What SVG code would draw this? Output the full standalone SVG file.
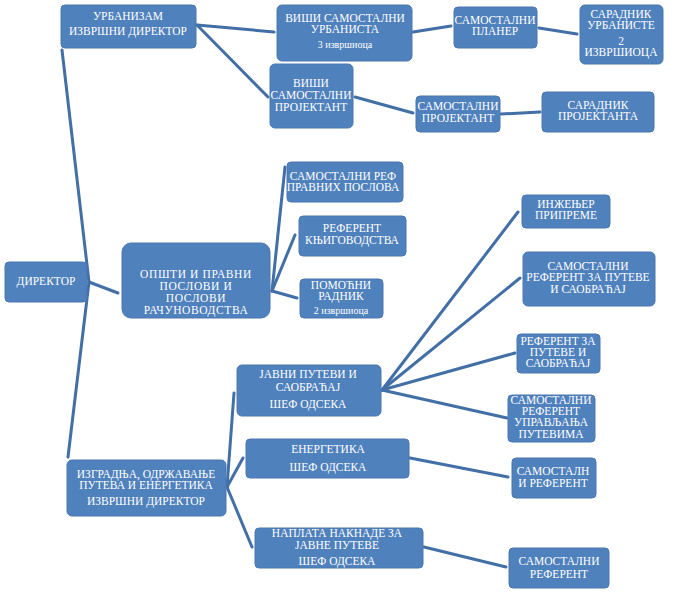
<svg xmlns="http://www.w3.org/2000/svg" width="686" height="609" viewBox="0 0 686 609">
<style>
.b{fill:#4f81bd;stroke:#4a77b0;stroke-width:1}
.t{font-family:"Liberation Serif","Times New Roman",serif;font-size:11.5px;fill:#ffffff;text-anchor:middle}
.s{font-size:10px}
.c{stroke:#426fa6;stroke-width:3;fill:none;stroke-linecap:round}
</style>
<rect width="686" height="609" fill="#ffffff"/>
<g id="connectors">
<line class="c" x1="89" y1="282" x2="62" y2="50"/>
<line class="c" x1="89" y1="282" x2="68" y2="457"/>
<line class="c" x1="89" y1="282" x2="118" y2="293"/>
<line class="c" x1="197" y1="25" x2="274" y2="32"/>
<line class="c" x1="197" y1="25" x2="268" y2="97"/>
<line class="c" x1="413" y1="32" x2="451" y2="26"/>
<line class="c" x1="539" y1="28" x2="577" y2="34"/>
<line class="c" x1="355" y1="97" x2="413" y2="113"/>
<line class="c" x1="501" y1="114" x2="540" y2="112"/>
<line class="c" x1="272" y1="291" x2="285" y2="167"/>
<line class="c" x1="272" y1="291" x2="295" y2="235"/>
<line class="c" x1="272" y1="291" x2="297" y2="298"/>
<line class="c" x1="382" y1="390" x2="518" y2="212"/>
<line class="c" x1="382" y1="390" x2="520" y2="278"/>
<line class="c" x1="382" y1="390" x2="515" y2="353"/>
<line class="c" x1="382" y1="390" x2="507" y2="418"/>
<line class="c" x1="227" y1="487" x2="234" y2="393"/>
<line class="c" x1="227" y1="487" x2="243" y2="458"/>
<line class="c" x1="227" y1="487" x2="252" y2="547"/>
<line class="c" x1="410" y1="458" x2="508" y2="477"/>
<line class="c" x1="424" y1="547" x2="506" y2="567"/>
</g>
<g id="urbanizam"><rect class="b" x="61" y="5" width="135" height="43" rx="4"/>
<text class="t" x="128" y="20">УРБАНИЗАМ</text><text class="t" x="128" y="35">ИЗВРШНИ ДИРЕКТОР</text></g>
<g id="visi-urbanista"><rect class="b" x="277" y="5" width="135" height="56" rx="5"/>
<text class="t" x="345" y="22">ВИШИ САМОСТАЛНИ</text><text class="t" x="345" y="33">УРБАНИСТА</text><text class="t s" x="345" y="48">3 извршиоца</text></g>
<g id="visi-projektant"><rect class="b" x="270" y="64" width="83" height="64" rx="5"/>
<text class="t" x="311" y="87">ВИШИ</text><text class="t" x="311" y="99">САМОСТАЛНИ</text><text class="t" x="311" y="111">ПРОЈЕКТАНТ</text></g>
<g id="planer"><rect class="b" x="454" y="7" width="83" height="41" rx="4"/>
<text class="t" x="495" y="24">САМОСТАЛНИ</text><text class="t" x="495" y="35">ПЛАНЕР</text></g>
<g id="saradnik-urbaniste"><rect class="b" x="580" y="5" width="83" height="59" rx="5"/>
<text class="t" x="621" y="18">САРАДНИК</text><text class="t" x="621" y="29">УРБАНИСТЕ</text><text class="t" x="621" y="45">2</text><text class="t" x="621" y="56">ИЗВРШИОЦА</text></g>
<g id="sam-projektant"><rect class="b" x="416" y="96" width="84" height="36" rx="4"/>
<text class="t" x="458" y="110">САМОСТАЛНИ</text><text class="t" x="458" y="122">ПРОЈЕКТАНТ</text></g>
<g id="saradnik-projektanta"><rect class="b" x="542" y="92" width="112" height="40" rx="4"/>
<text class="t" x="598" y="109">САРАДНИК</text><text class="t" x="598" y="120">ПРОЈЕКТАНТА</text></g>
<g id="direktor"><rect class="b" x="5" y="262" width="82" height="40" rx="4"/>
<text class="t" x="46" y="285">ДИРЕКТОР</text></g>
<g id="opsti"><rect class="b" x="122" y="243" width="148" height="75" rx="9"/>
<text class="t" x="196" y="278" letter-spacing="0.6">ОПШТИ И ПРАВНИ</text><text class="t" x="196" y="290" letter-spacing="0.6">ПОСЛОВИ И</text><text class="t" x="196" y="302" letter-spacing="0.6">ПОСЛОВИ</text><text class="t" x="196" y="314" letter-spacing="0.6">РАЧУНОВОДСТВА</text></g>
<g id="ref-pravnih"><rect class="b" x="287" y="162" width="116" height="40" rx="4"/>
<text class="t" x="343" y="180">САМОСТАЛНИ РЕФ</text><text class="t" x="343" y="191">ПРАВНИХ ПОСЛОВА</text></g>
<g id="ref-knjigovodstva"><rect class="b" x="299" y="216" width="107" height="40" rx="4"/>
<text class="t" x="352" y="232">РЕФЕРЕНТ</text><text class="t" x="352" y="244">КЊИГОВОДСТВА</text></g>
<g id="pomocni"><rect class="b" x="300" y="279" width="83" height="39" rx="4"/>
<text class="t" x="341" y="289">ПОМОЋНИ</text><text class="t" x="341" y="300">РАДНИК</text><text class="t s" x="341" y="314">2 извршиоца</text></g>
<g id="inzenjer"><rect class="b" x="522" y="195" width="88" height="33" rx="4"/>
<text class="t" x="566" y="208">ИНЖЕЊЕР</text><text class="t" x="566" y="219">ПРИПРЕМЕ</text></g>
<g id="sam-ref-putevi"><rect class="b" x="523" y="252" width="132" height="54" rx="5"/>
<text class="t" x="588" y="270">САМОСТАЛНИ</text><text class="t" x="588" y="281">РЕФЕРЕНТ ЗА ПУТЕВЕ</text><text class="t" x="588" y="293">И САОБРАЋАЈ</text></g>
<g id="ref-putevi"><rect class="b" x="517" y="334" width="83" height="39" rx="4"/>
<text class="t" x="558" y="345">РЕФЕРЕНТ ЗА</text><text class="t" x="558" y="356">ПУТЕВЕ И</text><text class="t" x="558" y="367">САОБРАЋАЈ</text></g>
<g id="sam-ref-upravljanja"><rect class="b" x="508" y="395" width="87" height="47" rx="4"/>
<text class="t" x="551" y="404">САМОСТАЛНИ</text><text class="t" x="551" y="415">РЕФЕРЕНТ</text><text class="t" x="551" y="426">УПРАВЉАЊА</text><text class="t" x="551" y="438">ПУТЕВИМА</text></g>
<g id="javni-putevi"><rect class="b" x="237" y="365" width="144" height="51" rx="5"/>
<text class="t" x="308" y="378">ЈАВНИ ПУТЕВИ И</text><text class="t" x="308" y="391">САОБРАЋАЈ</text><text class="t" x="308" y="408">ШЕФ ОДСЕКА</text></g>
<g id="energetika"><rect class="b" x="246" y="439" width="163" height="39" rx="4"/>
<text class="t" x="328" y="453">ЕНЕРГЕТИКА</text><text class="t" x="328" y="471">ШЕФ ОДСЕКА</text></g>
<g id="naplata"><rect class="b" x="255" y="528" width="168" height="40" rx="4"/>
<text class="t" x="337" y="537">НАПЛАТА НАКНАДЕ ЗА</text><text class="t" x="337" y="549">ЈАВНЕ ПУТЕВЕ</text><text class="t" x="337" y="565">ШЕФ ОДСЕКА</text></g>
<g id="izgradnja"><rect class="b" x="67" y="460" width="159" height="56" rx="5"/>
<text class="t" x="146" y="478">ИЗГРАДЊА, ОДРЖАВАЊЕ</text><text class="t" x="146" y="489">ПУТЕВА И ЕНЕРГЕТИКА</text><text class="t" x="146" y="505">ИЗВРШНИ ДИРЕКТОР</text></g>
<g id="sam-referent-energetika"><rect class="b" x="512" y="458" width="84" height="40" rx="4"/>
<text class="t" x="553" y="475">САМОСТАЛН</text><text class="t" x="553" y="487">И РЕФЕРЕНТ</text></g>
<g id="sam-referent-naplata"><rect class="b" x="509" y="548" width="100" height="40" rx="4"/>
<text class="t" x="559" y="565">САМОСТАЛНИ</text><text class="t" x="559" y="578">РЕФЕРЕНТ</text></g>
</svg>
